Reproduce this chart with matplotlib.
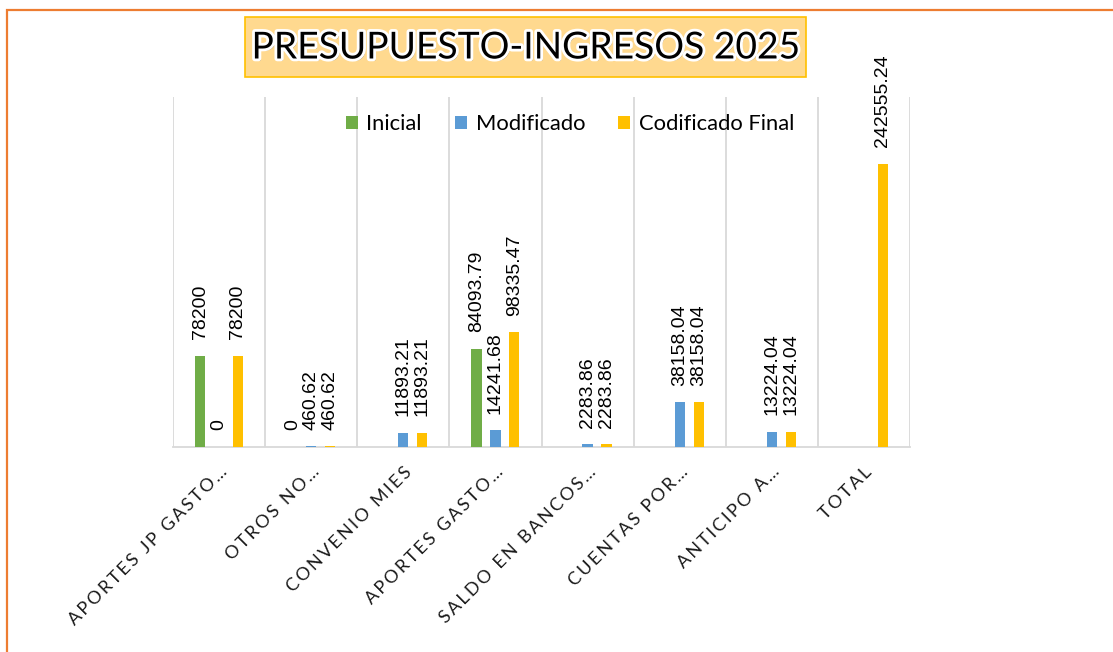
import matplotlib
matplotlib.use("Agg")
import matplotlib.pyplot as plt
import matplotlib.patheffects as pe
from matplotlib.patches import Rectangle
import numpy as np

# Data
categories = ["APORTES JP GASTO…", "OTROS NO…", "CONVENIO MIES", "APORTES GASTO…",
              "SALDO EN BANCOS…", "CUENTAS POR…", "ANTICIPO A…", "TOTAL"]
inicial = [78200, 0, None, 84093.79, None, None, None, None]
modificado = [0, 460.62, 11893.21, 14241.68, 2283.86, 38158.04, 13224.04, None]
codificado = [78200, 460.62, 11893.21, 98335.47, 2283.86, 38158.04, 13224.04, 242555.24]

series = [("Inicial", inicial, "#70AD47"),
          ("Modificado", modificado, "#5B9BD5"),
          ("Codificado Final", codificado, "#FFC000")]

plt.rcParams['font.family'] = ['Lato', 'DejaVu Sans']

W, H = 1113, 652
fig = plt.figure(figsize=(W / 100, H / 100), dpi=100)

# orange chart border (left and top edges visible)
fig.patches.append(Rectangle((7 / W, -0.1), 1.2, 1 - 10 / H + 0.1, transform=fig.transFigure,
                             fill=False, edgecolor="#ED7D31", linewidth=1.6, zorder=0))

ax = fig.add_axes([173 / W, 1 - 447 / H, (910 - 173) / W, (447 - 97) / H])

x = np.arange(len(categories))
offsets = [-0.205, 0.0, 0.205]
bw = 0.11
for (name, vals, col), off in zip(series, offsets):
    xs = [xi + off for xi, v in zip(x, vals) if v is not None]
    ys = [v for v in vals if v is not None]
    ax.bar(xs, ys, width=bw, color=col, label=name, zorder=3)
    for xi, v in zip(xs, ys):
        lbl = str(int(v)) if v == int(v) else f"{v:.2f}"
        ax.annotate(lbl, (xi, v), xytext=(0, 12), textcoords="offset points",
                    rotation=90, ha="center", va="bottom", fontsize=14,
                    color="black", family=["Liberation Sans", "DejaVu Sans"])

ax.set_xlim(-0.5, len(categories) - 0.5)
ax.set_ylim(0, 300000)
ax.set_yticks([])
ax.set_xticks(x)
ax.set_xticks(np.arange(-0.5, len(categories), 1.0), minor=True)
ax.grid(which="minor", axis="x", color="#D9D9D9", linewidth=1.3, zorder=0)
ax.tick_params(axis="x", which="both", length=0, pad=12)
for s in ["top", "right", "left"]:
    ax.spines[s].set_visible(False)
ax.spines["bottom"].set_color("#D9D9D9")
ax.spines["bottom"].set_linewidth(1.3)


def spaced(t):
    # Excel-style expanded character spacing
    return "\u2009".join(t)


ax.set_xticklabels([spaced(c) for c in categories], rotation=45, ha="right", va="top",
                   rotation_mode="anchor", fontsize=13, color="#1a1a1a")

leg = fig.legend(loc="center", bbox_to_anchor=(570 / W, 1 - 124 / H), ncol=3, frameon=False,
                 fontsize=15.8, handlelength=0.55, handleheight=0.55, handletextpad=0.4,
                 columnspacing=1.5)

# title box
fig.patches.append(Rectangle((245 / W, 1 - 77 / H), (806 - 245) / W, 60 / H,
                             transform=fig.transFigure, facecolor="#FFD98F",
                             edgecolor="#FFC000", linewidth=1.2, zorder=1))
fig.text(526 / W, 1 - 48 / H, "PRESUPUESTO-INGRESOS 2025", ha="center", va="center",
         fontsize=26.8, color="black", zorder=5,
         path_effects=[pe.SimplePatchShadow(offset=(1.5, -1.5), alpha=0.45),
                       pe.withStroke(linewidth=4, foreground="white")])

fig.savefig("out.png", dpi=100)
